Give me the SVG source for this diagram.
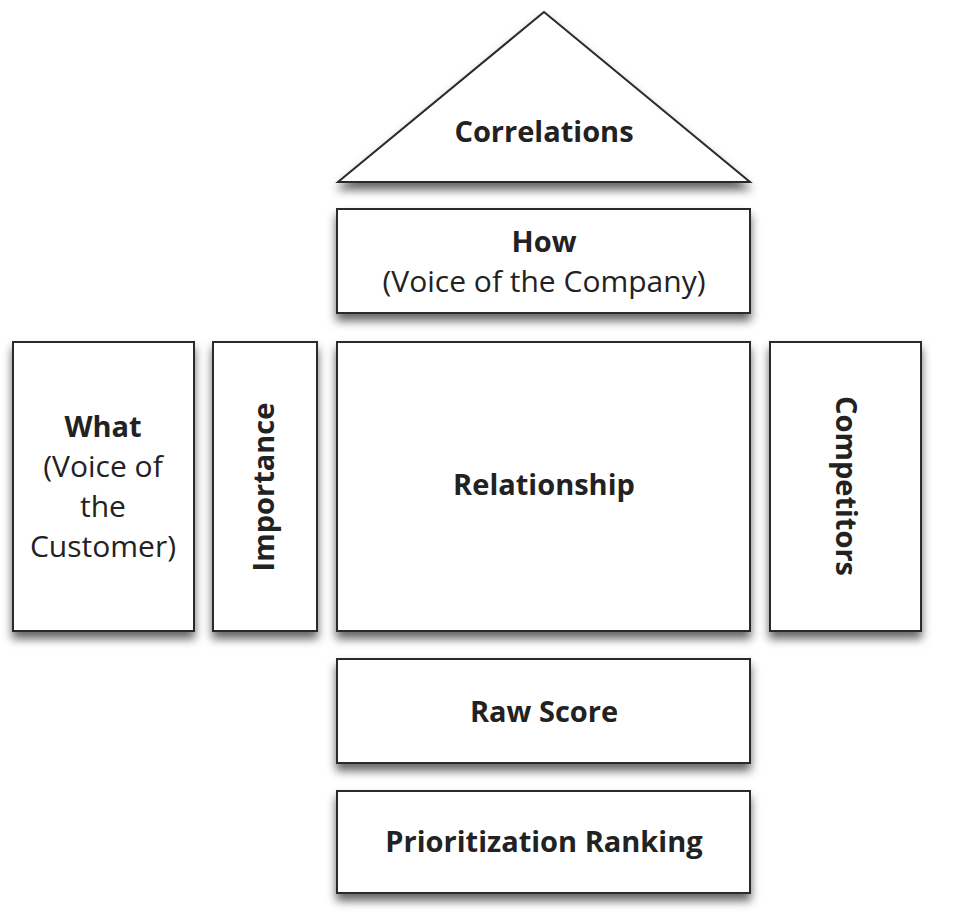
<svg xmlns="http://www.w3.org/2000/svg" width="953" height="920" viewBox="0 0 953 920">
<defs>
<filter id="sh" x="-10%" y="-10%" width="120%" height="140%">
<feDropShadow dx="0" dy="7" stdDeviation="5" flood-color="#000" flood-opacity="0.6"/>
</filter>
<style>
.box{fill:#fff;stroke:#2a2a2a;stroke-width:2;filter:url(#sh)}
text{font-family:"Open Sans","Liberation Sans",sans-serif;font-size:30px;fill:#222;text-anchor:middle}
.b{font-weight:bold;font-size:29px}
</style>
</defs>
<rect width="953" height="920" fill="#fff"/>
<g id="correlations"><polygon class="box" points="544,12 338,182 750,182"/><text class="b" x="544" y="142">Correlations</text></g>
<g id="how"><rect class="box" x="337" y="209" width="413" height="104"/><text class="b" x="544" y="252">How</text><text x="544" y="292">(Voice of the Company)</text></g>
<g id="what"><rect class="box" x="13" y="342" width="181" height="289"/><text class="b" x="103" y="437">What</text><text x="103" y="477">(Voice of</text><text x="103" y="517">the</text><text x="103" y="557">Customer)</text></g>
<g id="importance"><rect class="box" x="213" y="342" width="104" height="289"/><text class="b" transform="translate(274,487) rotate(-90)">Importance</text></g>
<g id="relationship"><rect class="box" x="337" y="342" width="413" height="289"/><text class="b" x="544" y="495">Relationship</text></g>
<g id="competitors"><rect class="box" x="770" y="342" width="151" height="289"/><text class="b" transform="translate(836,486) rotate(90)">Competitors</text></g>
<g id="rawscore"><rect class="box" x="337" y="659" width="413" height="104"/><text class="b" x="544" y="722">Raw Score</text></g>
<g id="prioritization"><rect class="box" x="337" y="791" width="413" height="102"/><text class="b" x="544" y="852">Prioritization Ranking</text></g>
<g id="connectors"/>
</svg>
